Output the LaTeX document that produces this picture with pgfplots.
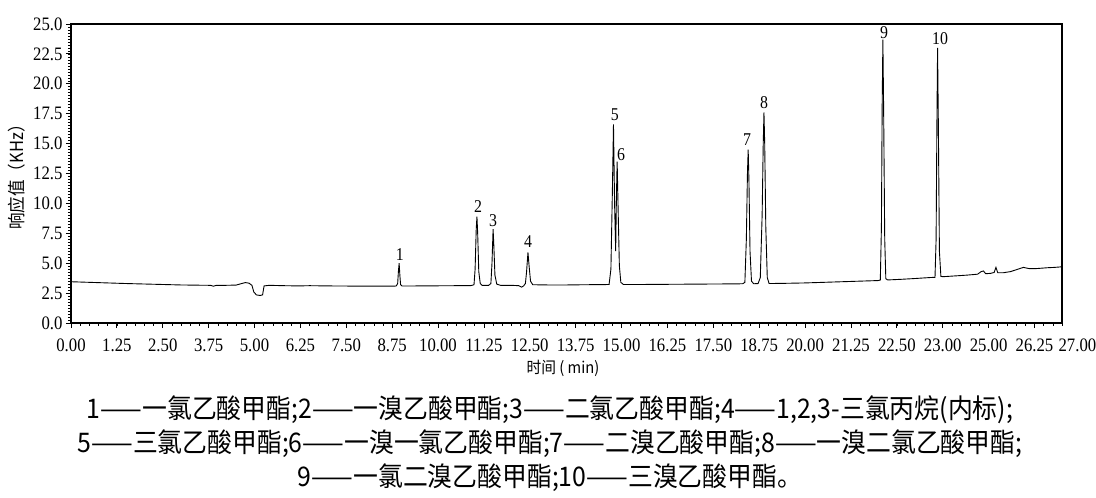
\documentclass[border=0pt]{standalone}
\usepackage{fontspec}
\setmainfont{Liberation Serif}
\newfontfamily\tickfont[FakeStretch=0.88]{Liberation Serif}
\newfontfamily\cjk[FakeStretch=0.92]{Noto Sans CJK SC}
\usepackage{pgfplots}
\pgfplotsset{compat=1.18}
\begin{document}
\begin{tikzpicture}
\useasboundingbox (-71pt,-175pt) rectangle (1025pt,323pt);
\begin{axis}[
 at={(0,0)}, anchor=south west,
 width=991pt, height=299pt, scale only axis,
 xmin=0, xmax=27, ymin=0, ymax=25,
 clip=false,
 axis line style={line width=1.2pt},
 xtick={0,1.25,2.5,3.75,5,6.25,7.5,8.75,10,11.25,12.5,13.75,15,16.25,17.5,18.75,20,21.25,22.5,23.75,25,26.25},
 xticklabels={0.00,1.25,2.50,3.75,5.00,6.25,7.50,8.75,10.00,11.25,12.50,13.75,15.00,16.25,17.50,18.75,20.00,21.25,22.50,23.00,25.00,26.25},
 minor xtick={0,0.25,...,27.1},
 ytick={0,2.5,5,7.5,10,12.5,15,17.5,20,22.5,25},
 yticklabels={0.0,2.5,5.0,7.5,10.0,12.5,15.0,17.5,20.0,22.5,25.0},
 minor ytick={0,0.25,...,25.1},
 tick align=outside,
 xtick pos=bottom, ytick pos=left,
 major tick length=5pt, minor tick length=3pt,
 tick style={black, line width=0.8pt},
 minor tick style={black, line width=0.6pt},
 tick label style={font=\tickfont\fontsize{19}{20}\selectfont},
 xticklabel style={yshift=-7pt},
]
\addplot[black, line width=0.9pt] coordinates {
(0,3.45) (0.5,3.40) (1,3.35) (1.5,3.30) (2,3.26) (2.5,3.22) (3,3.18) (3.5,3.16) (3.8,3.15) (3.88,3.08) (3.95,3.14) (4.2,3.15) (4.5,3.17) (4.65,3.3) (4.75,3.38) (4.85,3.33) (4.93,3.15) (4.98,2.6) (5.05,2.35) (5.15,2.3) (5.22,2.35) (5.26,3.1) (5.4,3.15) (5.8,3.12) (6.2,3.1) (6.5,3.12) (7,3.1) (7.5,3.09) (8,3.08) (8.5,3.08) (8.86,3.09)
(8.90,3.3) (8.92,4.3) (8.94,5.0) (8.96,4.0) (8.98,3.2) (9.02,3.09)
(9.5,3.1) (10,3.11) (10.5,3.12) (10.9,3.13)
(10.98,3.2) (11.01,4.5) (11.04,7.8) (11.06,8.9) (11.08,7.5) (11.11,4.3) (11.15,3.3) (11.2,3.15)
(11.38,3.15) (11.44,3.3) (11.47,5.0) (11.50,7.85) (11.52,6.5) (11.55,4.0) (11.6,3.25) (11.7,3.15)
(12.0,3.15) (12.2,3.12) (12.28,3.0) (12.33,3.1) (12.38,3.3)
(12.41,4.2) (12.45,5.9) (12.48,4.8) (12.52,3.5) (12.58,3.2)
(13,3.18) (13.5,3.18) (14,3.2) (14.5,3.21) (14.66,3.22)
(14.71,4.5) (14.75,11) (14.78,16.6) (14.81,10) (14.84,6.0) (14.86,10.5) (14.88,13.5) (14.91,9) (14.94,4.8) (14.98,3.4) (15.05,3.22)
(15.5,3.22) (16,3.23) (16.5,3.24) (17,3.25) (17.5,3.26) (18,3.27) (18.3,3.28)
(18.36,3.4) (18.40,7) (18.43,12.5) (18.45,14.5) (18.47,12) (18.50,6) (18.54,3.5) (18.6,3.28)
(18.72,3.3) (18.78,3.8) (18.83,9) (18.86,15) (18.88,17.6) (18.90,15) (18.93,8) (18.97,3.8) (19.02,3.3)
(19.5,3.32) (20,3.35) (20.5,3.4) (21,3.45) (21.5,3.5) (22.0,3.55)
(22.05,3.6) (22.08,8) (22.10,18) (22.12,23.7) (22.14,18) (22.17,7) (22.2,3.7) (22.25,3.6)
(22.6,3.65) (23.0,3.72) (23.4,3.8) (23.54,3.82)
(23.57,7) (23.59,16) (23.61,23.0) (23.63,17) (23.66,6) (23.7,3.9) (23.75,3.87)
(24.0,3.92) (24.4,4.0) (24.7,4.08) (24.8,4.3) (24.86,4.35) (24.92,4.12) (25.05,4.15) (25.15,4.22) (25.2,4.65) (25.25,4.2) (25.4,4.2) (25.6,4.3) (25.8,4.5) (25.95,4.65) (26.1,4.55) (26.3,4.55) (26.6,4.62) (26.8,4.65) (27,4.7)
};
\begin{scope}[font=\tickfont\fontsize{18}{18}\selectfont]
\node at (axis cs:8.96,5.7) {1};
\node at (axis cs:11.09,9.7) {2};
\node at (axis cs:11.5,8.6) {3};
\node at (axis cs:12.45,6.8) {4};
\node at (axis cs:14.82,17.4) {5};
\node at (axis cs:14.99,14.05) {6};
\node at (axis cs:18.42,15.3) {7};
\node at (axis cs:18.88,18.4) {8};
\node at (axis cs:22.15,24.3) {9};
\node at (axis cs:23.68,23.8) {10};
\end{scope}
\node[font=\tickfont\fontsize{19}{20}\selectfont, anchor=north, yshift=-12pt] at (axis cs:27.42,0) {27.00};
\end{axis}
\node[rotate=90, font=\cjk\fontsize{18}{18}\selectfont] at (-54pt,150pt) {响应值（KHz）};
\node[font=\cjk\fontsize{16}{16}\selectfont] at (492pt,-45pt) {时间 ( min)};
\begin{scope}[font=\cjk\fontsize{27}{28}\selectfont]
\node at (479pt,-87pt) {1——一氯乙酸甲酯;2——一溴乙酸甲酯;3——二氯乙酸甲酯;4——1,2,3-三氯丙烷(内标);};
\node at (479pt,-121pt) {5——三氯乙酸甲酯;6——一溴一氯乙酸甲酯;7——二溴乙酸甲酯;8——一溴二氯乙酸甲酯;};
\node at (479pt,-155pt) {9——一氯二溴乙酸甲酯;10——三溴乙酸甲酯。};
\end{scope}
\end{tikzpicture}
\end{document}
